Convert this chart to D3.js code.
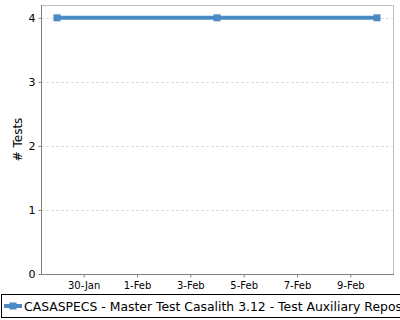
<!DOCTYPE html>
<html>
<head>
<meta charset="utf-8">
<script src="https://cdn.jsdelivr.net/npm/d3@7"></script>
<style>
  body { margin: 0; background: #fff; }
  svg { display: block; font-family: "DejaVu Sans", sans-serif; }
</style>
</head>
<body>
<svg id="chart" width="400" height="320"></svg>
<script>
// Data
const dates = ["2024-01-29", "2024-02-04", "2024-02-10"];
const testCounts = [4, 4, 4];
const yTicks = [0, 1, 2, 3, 4];
const xTickDates = ["2024-01-30", "2024-02-01", "2024-02-03", "2024-02-05", "2024-02-07", "2024-02-09"];
const seriesName = "CASASPECS - Master Test Casalith 3.12 - Test Auxiliary Repository";

const parse = d3.timeParse("%Y-%m-%d");
const points = dates.map((d, i) => ({ date: parse(d), value: testCounts[i] }));

const svg = d3.select("#chart");
const plotLeft = 41, plotRight = 393, plotTop = 5, plotBottom = 274;

// x domain padded a bit on both sides like the original
const first = points[0].date, last = points[points.length - 1].date;
const pad = (last - first) * 0.05;
const x = d3.scaleTime()
    .domain([new Date(+first - pad), new Date(+last + pad)])
    .range([plotLeft, plotRight]);
const y = d3.scaleLinear().domain([0, 4.2]).range([plotBottom, plotTop]);

// Gridlines
svg.append("g").selectAll("line")
    .data(yTicks.filter(t => t > 0))
    .join("line")
    .attr("x1", plotLeft).attr("x2", plotRight)
    .attr("y1", d => Math.round(y(d)) + 0.5).attr("y2", d => Math.round(y(d)) + 0.5)
    .attr("stroke", "#dcdcdc")
    .attr("stroke-dasharray", "3,2");

// Plot border (top/right)
svg.append("path")
    .attr("d", `M${plotLeft},${plotTop + 0.5}H${plotRight + 0.5}V${plotBottom}`)
    .attr("fill", "none")
    .attr("stroke", "#c0c0c0");

// Y axis
const yAxis = svg.append("g")
    .attr("transform", `translate(${plotLeft + 0.5},0)`)
    .call(d3.axisLeft(y).tickValues(yTicks).tickFormat(d3.format("d")).tickSize(3).tickPadding(3));
yAxis.select(".domain").attr("stroke", "#808080").attr("d", `M0,${plotTop}V${plotBottom + 0.5}`);
yAxis.selectAll(".tick line").attr("stroke", "#808080");
yAxis.selectAll("text").attr("font-size", 11).attr("fill", "#000").attr("font-family", "DejaVu Sans");

// X axis
const xAxis = svg.append("g")
    .attr("transform", `translate(0,${plotBottom + 0.5})`)
    .call(d3.axisBottom(x).tickValues(xTickDates.map(parse)).tickFormat(d3.timeFormat("%-d-%b")).tickSize(3).tickPadding(4));
xAxis.select(".domain").attr("stroke", "#808080").attr("d", `M${plotLeft},0H${plotRight + 1}`);
xAxis.selectAll(".tick line").attr("stroke", "#808080");
xAxis.selectAll("text").attr("font-size", 10).attr("fill", "#000").attr("font-family", "DejaVu Sans");

// Axis title
svg.append("text")
    .attr("transform", `translate(22,${(plotTop + plotBottom) / 2}) rotate(-90)`)
    .attr("text-anchor", "middle")
    .attr("font-size", 12)
    .text("# Tests");

// Series line
const color = "#4a8bc4";
svg.append("path")
    .datum(points)
    .attr("fill", "none")
    .attr("stroke", color)
    .attr("stroke-width", 4)
    .attr("d", d3.line().x(d => x(d.date)).y(d => y(d.value)));

svg.append("g").selectAll("rect")
    .data(points)
    .join("rect")
    .attr("x", d => x(d.date) - 3.5)
    .attr("y", d => y(d.value) - 3.5)
    .attr("width", 7).attr("height", 7)
    .attr("fill", color);

// Legend (runs past the right edge, as in the original)
const legend = svg.append("g");
legend.append("rect")
    .attr("x", 1.5).attr("y", 294.5)
    .attr("width", 420).attr("height", 23)
    .attr("fill", "#fff").attr("stroke", "#000");
legend.append("line")
    .attr("x1", 4).attr("x2", 22).attr("y1", 306).attr("y2", 306)
    .attr("stroke", color).attr("stroke-width", 4);
legend.append("rect")
    .attr("x", 9.5).attr("y", 302.5).attr("width", 7).attr("height", 7)
    .attr("fill", color);
legend.append("text")
    .attr("x", 24).attr("y", 311)
    .attr("font-size", 12.4)
    .text(seriesName);
</script>
</body>
</html>
